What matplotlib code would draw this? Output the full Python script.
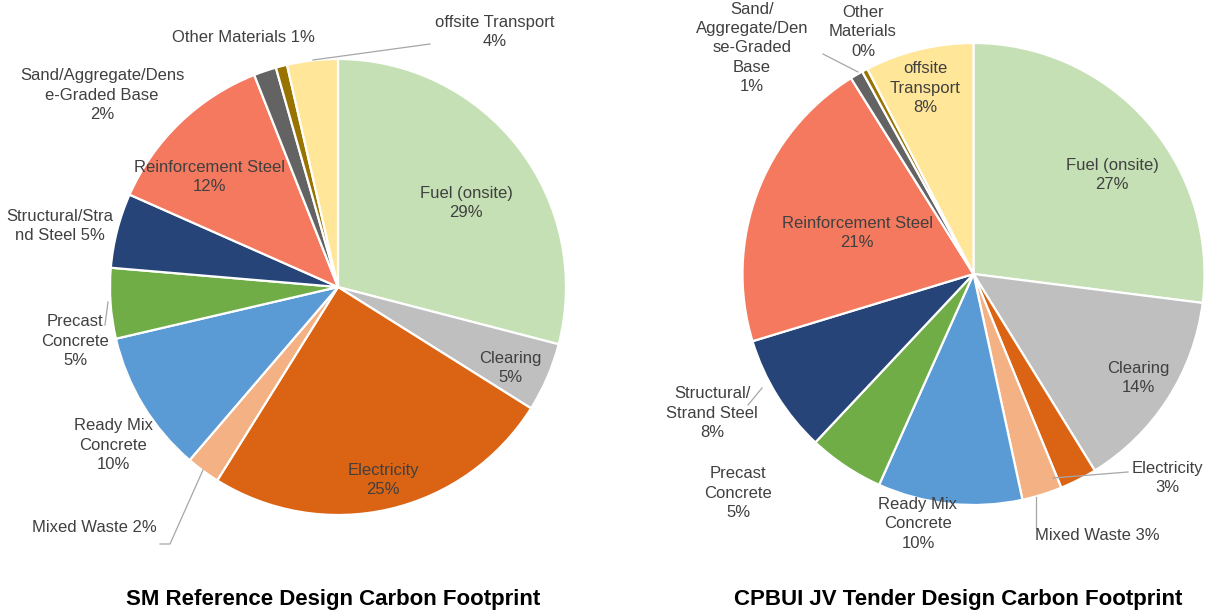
import matplotlib.pyplot as plt

plt.rcParams['font.family'] = ['Liberation Sans', 'DejaVu Sans']

W, H = 1212, 612

# categories in drawing order (clockwise from 12 o'clock)
categories = ["Fuel (onsite)", "Clearing", "Electricity", "Mixed Waste",
              "Ready Mix Concrete", "Precast Concrete", "Structural/Strand Steel",
              "Reinforcement Steel", "Sand/Aggregate/Dense-Graded Base",
              "Other Materials", "offsite Transport"]
colors = ["#C5E0B4", "#BFBFBF", "#DA6413", "#F4B183", "#5B9BD5", "#70AD47",
          "#264478", "#F4795E", "#636363", "#997300", "#FFE699"]

sm_values = [29.1, 4.9, 25.0, 2.4, 10.1, 5.0, 5.3, 12.4, 1.6, 0.8, 3.6]
cp_values = [27.0, 14.2, 2.6, 2.8, 10.1, 5.3, 8.3, 20.8, 0.9, 0.4, 7.6]

# label text as it wraps in the original (pct filled in)
sm_labels = ["Fuel (onsite)\n{}", "Clearing\n{}", "Electricity\n{}", "Mixed Waste {}",
             "Ready Mix\nConcrete\n{}", "Precast\nConcrete\n{}", "Structural/Stra\nnd Steel {}",
             "Reinforcement Steel\n{}", "Sand/Aggregate/Dens\ne-Graded Base\n{}",
             "Other Materials {}", "offsite Transport\n{}"]
cp_labels = ["Fuel (onsite)\n{}", "Clearing\n{}", "Electricity\n{}", "Mixed Waste {}",
             "Ready Mix\nConcrete\n{}", "Precast\nConcrete\n{}", "Structural/\nStrand Steel\n{}",
             "Reinforcement Steel\n{}", "Sand/\nAggregate/Den\nse-Graded\nBase\n{}",
             "Other\nMaterials\n{}", "offsite\nTransport\n{}"]

titles = ["SM Reference Design Carbon Footprint", "CPBUI JV Tender Design Carbon Footprint"]

# layout in pixels (y from top)
sm_center, sm_radius = (338, 287), 228
cp_center, cp_radius = (973.5, 274), 231
sm_pos = [(466, 203), (510, 368), (383, 480), (94, 527), (113, 445), (75, 341),
          (60, 226), (210, 177), (102, 95), (243, 37), (495, 32)]
cp_pos = [(1112, 175), (1138, 378), (1167, 478), (1097, 535), (918, 524), (738, 493),
          (712, 413), (857, 233), (752, 48), (863, 32), (925, 88)]
sm_leaders = [[(203, 470), (170, 544), (160, 544)], [(108, 302), (105, 325)],
              [(313, 60), (430, 44)]]
cp_leaders = [[(823, 54), (858, 72)], [(1053, 478), (1128, 472)],
              [(1036, 497), (1036, 528)], [(762, 388), (748, 405)]]


def py(y):
    return H - y


fig = plt.figure(figsize=(W / 100, H / 100), dpi=100)
ax = fig.add_axes([0, 0, 1, 1])

charts = [(sm_values, sm_labels, sm_center, sm_radius, sm_pos, sm_leaders),
          (cp_values, cp_labels, cp_center, cp_radius, cp_pos, cp_leaders)]

for values, labels, center, radius, pos, leaders in charts:
    ax.pie(values, colors=colors, startangle=90, counterclock=False,
           center=(center[0], py(center[1])), radius=radius,
           wedgeprops=dict(edgecolor="white", linewidth=1.6))
    total = sum(values)
    for lab, v, (x, y) in zip(labels, values, pos):
        pct = "{:.0f}%".format(round(v / total * 100))
        ax.text(x, py(y), lab.format(pct), ha="center", va="center",
                fontsize=12, color="#404040", linespacing=1.35)
    for pts in leaders:
        ax.plot([p[0] for p in pts], [py(p[1]) for p in pts],
                color="#A6A6A6", linewidth=0.9)

ax.text(333, py(600), titles[0], ha="center", va="center", fontsize=16,
        fontweight="bold", color="black")
ax.text(958, py(600), titles[1], ha="center", va="center", fontsize=16,
        fontweight="bold", color="black")

ax.set_xlim(0, W)
ax.set_ylim(0, H)
ax.set_aspect("auto")
ax.axis("off")

fig.savefig("out.png", dpi=100)
